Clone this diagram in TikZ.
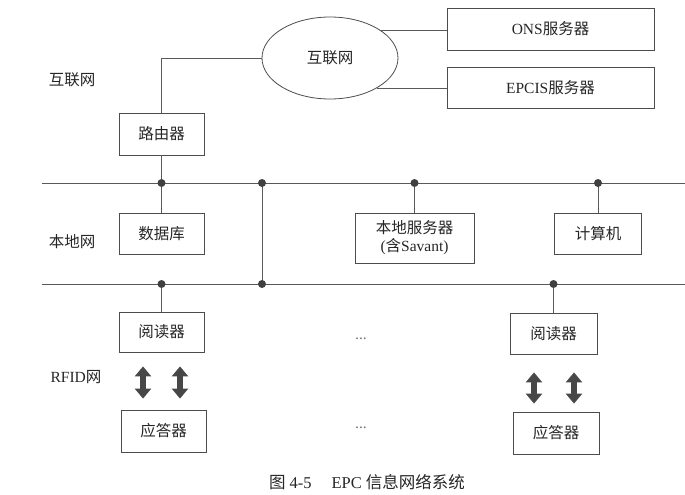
\documentclass[tikz,border=0pt]{standalone}
\usepackage{fontspec}
\setmainfont{Liberation Serif}
\newfontfamily\cjk{Noto Sans CJK SC}
\usetikzlibrary{arrows.meta,shapes.geometric,calc}
\begin{document}
\begin{tikzpicture}[x=1pt,y=-1pt,
  every node/.style={font=\fontsize{15.5}{18}\selectfont, text=black!85},
  box/.style={draw=black!70, line width=0.8pt, inner sep=0pt, align=center},
  wire/.style={draw=black!65, line width=0.8pt},
  dot/.style={circle, fill=black!75, inner sep=0pt, minimum size=8pt},
  biarrow/.style={black!72, line width=6pt, {Triangle[width=16pt,length=10pt]}-{Triangle[width=16pt,length=10pt]}},
  lbl/.style={font=\fontsize{15.5}{18}\selectfont}]
\useasboundingbox (0,0) rectangle (685,495);

% Internet layer
\node[draw=black!70, line width=0.8pt, ellipse, minimum width=136pt, minimum height=82pt, inner sep=0pt] (inet) at (330,58) {\cjk 互联网};
\node[box, minimum width=207pt, minimum height=42pt] (ons) at (550.5,29) {ONS\cjk 服务器};
\node[box, minimum width=207pt, minimum height=41pt] (epcis) at (550.5,87.5) {EPCIS\cjk 服务器};
\node[box, minimum width=85pt, minimum height=42pt] (router) at (161.5,134) {\cjk 路由器};
\node[lbl] (l1) at (72,80) {\cjk 互联网};

\draw[wire] (inet.29) -- (inet.29 -| ons.west);
\draw[wire] (inet.-33) -- (inet.-33 -| epcis.west);
\draw[wire] (inet.west) -| (router.north);

% Local network
\coordinate (b1L) at (42,183);
\coordinate (b1R) at (685,183);
\coordinate (b2L) at (42,284);
\coordinate (b2R) at (685,284);
\draw[wire] (b1L) -- (b1R);
\draw[wire] (b2L) -- (b2R);

\node[box, minimum width=85pt, minimum height=41pt] (db) at (161.5,233.5) {\cjk 数据库};
\node[box, minimum width=119pt, minimum height=50pt] (srv) at (414.5,238) {{\cjk 本地服务器}\\[0pt](\cjk 含\rmfamily Savant)};
\node[box, minimum width=87pt, minimum height=41pt] (pc) at (598,233.5) {\cjk 计算机};
\node[lbl] (l2) at (72,242) {\cjk 本地网};

\coordinate (j1) at (262,183);
\coordinate (j2) at (262,284);

\draw[wire] (router.south) -- (db.north);
\draw[wire] (j1) -- (j2);
\draw[wire] (srv.north |- b1L) -- (srv.north);
\draw[wire] (pc.north |- b1L) -- (pc.north);

% RFID network
\node[box, minimum width=85pt, minimum height=40pt] (r1) at (161.5,332) {\cjk 阅读器};
\node[box, minimum width=87pt, minimum height=41pt] (r2) at (553.5,333.5) {\cjk 阅读器};
\node[box, minimum width=85pt, minimum height=42pt] (a1) at (163.5,431) {\cjk 应答器};
\node[box, minimum width=86pt, minimum height=42pt] (a2) at (556,433) {\cjk 应答器};
\node[lbl] (l3) at (76,377) {RFID\cjk 网};
\node[text=black!55] (e1) at (361,339) {...};
\node[text=black!55] (e2) at (361,428) {...};

\draw[wire] (r1.north |- b2L) -- (r1.north);
\draw[wire] (r2.north |- b2L) -- (r2.north);

\draw[biarrow, shorten <=14pt, shorten >=11pt] ([xshift=-18.5pt]r1.south) -- ([xshift=-18.5pt]r1.south |- a1.north);
\draw[biarrow, shorten <=14pt, shorten >=11pt] ([xshift=18.5pt]r1.south) -- ([xshift=18.5pt]r1.south |- a1.north);
\draw[biarrow, shorten <=18pt, shorten >=8pt] ([xshift=-19.5pt]r2.south) -- ([xshift=-19.5pt]r2.south |- a2.north);
\draw[biarrow, shorten <=18pt, shorten >=8pt] ([xshift=20.5pt]r2.south) -- ([xshift=20.5pt]r2.south |- a2.north);

% junction dots
\node[dot] (d1) at (router.south |- b1L) {};
\node[dot] (d2) at (j1) {};
\node[dot] (d3) at (srv.north |- b1L) {};
\node[dot] (d4) at (pc.north |- b1L) {};
\node[dot] (d5) at (r1.north |- b2L) {};
\node[dot] (d6) at (j2) {};
\node[dot] (d7) at (r2.north |- b2L) {};

% caption
\node[font=\fontsize{16.5}{19}\selectfont] (cap) at (367,482) {{\cjk 图} 4-5\hspace{1.2em}EPC {\cjk 信息网络系统}};
\end{tikzpicture}
\end{document}
